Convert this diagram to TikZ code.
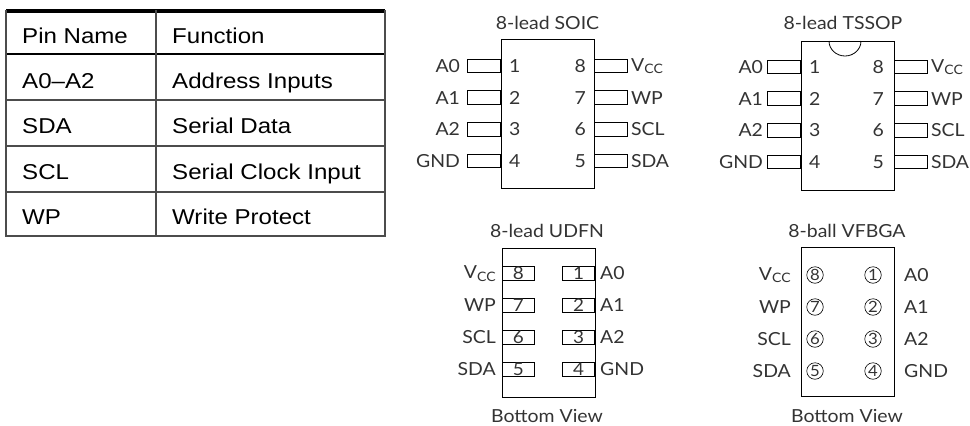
\documentclass[tikz,border=0pt]{standalone}
\usepackage{fontspec}
\setmainfont{Liberation Sans}[FakeStretch=1.12]
\newfontfamily\chipfont{Lato}[FakeStretch=1.08]
\usetikzlibrary{positioning}

\newcommand{\Vcc}{V\kern0.3pt{\fontsize{13}{13}\selectfont\raisebox{-2.5pt}{CC}}}

\begin{document}
\begin{tikzpicture}[x=1pt, y=-1pt,
    cell/.style={anchor=base west, inner sep=0pt, font=\fontsize{21.5}{21.5}\selectfont},
    rule/.style={draw=black!70, line width=1.2pt},
    lbl/.style={inner sep=0pt, text=black!80, font=\chipfont\fontsize{18}{18}\selectfont},
    pin/.style={draw, line width=0.8pt, fill=white, minimum width=33pt, minimum height=13.5pt, inner sep=0pt},
    pad/.style={draw, line width=0.8pt, minimum width=32pt, minimum height=14pt, inner sep=0pt, text=black!80, font=\chipfont\fontsize{17.5}{17.5}\selectfont},
    ball/.style={draw, circle, line width=0.6pt, minimum size=16.5pt, inner sep=0pt, text=black!80, font=\chipfont\fontsize{15.5}{15.5}\selectfont},
    body/.style={draw, line width=0.8pt}]
    \useasboundingbox (0,0) rectangle (970,426);

    % pin table
    \draw[line width=3.5pt] (6,11) -- (385,11);
    \draw[line width=2pt] (6,54) -- (385,54);
    \foreach \yy in {100,146,192} \draw[rule] (6,\yy) -- (385,\yy);
    \draw[rule] (6,10) -- (6,236) -- (385,236) -- (385,10);
    \draw[rule] (156,10) -- (156,236);
    \node[cell] (hname) at (22,43) {Pin Name};
    \node[cell] (hfunc) at (172,43) {Function};
    \foreach \nm/\fn [count=\r] in {A0--A2/Address Inputs, SDA/Serial Data, SCL/Serial Clock Input, WP/Write Protect} {
        \node[cell] (n\r) at (22,42.5+45.6*\r) {\nm};
        \node[cell] (f\r) at (172,42.5+45.6*\r) {\fn};
    }

    % 8-lead SOIC
    \node[lbl] (soic) at (547.5,23) {8-lead SOIC};
    \draw[body] (501,39) rectangle (594,188);
    \foreach \nm [count=\i] in {A0,A1,A2,GND} {
        \node[pin, anchor=east] (sl\i) at (501,66+31.6*\i-31.6) {};
        \node[lbl, left=7pt of sl\i] (sln\i) {\nm};
        \node[lbl, right=8pt of sl\i] (slp\i) {\i};
    }
    \foreach \nm/\p [count=\i] in {\Vcc/8,WP/7,SCL/6,SDA/5} {
        \node[pin, anchor=west] (sr\i) at (594,66+31.6*\i-31.6) {};
        \node[lbl, right=3pt of sr\i] (srn\i) {\nm};
        \node[lbl, left=8pt of sr\i] (srp\i) {\p};
    }

    % 8-lead TSSOP
    \node[lbl] (tssop) at (843,23) {8-lead TSSOP};
    \draw[body] (801,41) rectangle (894,190);
    \draw[body] (829,41) arc[start angle=180, end angle=0, x radius=16, y radius=15];
    \foreach \nm [count=\i] in {A0,A1,A2,GND} {
        \node[pin, anchor=east] (tl\i) at (801,67+31.6*\i-31.6) {};
        \node[lbl, left=4pt of tl\i] (tln\i) {\nm};
        \node[lbl, right=8pt of tl\i] (tlp\i) {\i};
    }
    \foreach \nm/\p [count=\i] in {\Vcc/8,WP/7,SCL/6,SDA/5} {
        \node[pin, anchor=west] (tr\i) at (894,67+31.6*\i-31.6) {};
        \node[lbl, right=3pt of tr\i] (trn\i) {\nm};
        \node[lbl, left=10pt of tr\i] (trp\i) {\p};
    }

    % 8-lead UDFN, bottom view
    \node[lbl] (udfn) at (547,231) {8-lead UDFN};
    \draw[body] (502,248) rectangle (595,397);
    \foreach \nm/\p [count=\i] in {\Vcc/8,WP/7,SCL/6,SDA/5} {
        \node[pad, anchor=west] (ul\i) at (502,273.5+31.8*\i-31.8) {\p};
        \node[lbl, left=6pt of ul\i] (uln\i) {\nm};
    }
    \foreach \nm [count=\i] in {A0,A1,A2,GND} {
        \node[pad, anchor=east] (ur\i) at (595,273.5+31.8*\i-31.8) {\i};
        \node[lbl, right=5pt of ur\i] (urn\i) {\nm};
    }
    \node[lbl] (uview) at (547,416.5) {Bottom View};

    % 8-ball VFBGA, bottom view
    \node[lbl] (vfbga) at (847,231) {8-ball VFBGA};
    \draw[body] (801,247) rectangle (894,396);
    \foreach \nm/\p [count=\i] in {\Vcc/8,WP/7,SCL/6,SDA/5} {
        \node[ball] (bl\i) at (815,275+32*\i-32) {\p};
        \node[lbl, anchor=east] (bln\i) at (791,275+32*\i-32) {\nm};
    }
    \foreach \nm [count=\i] in {A0,A1,A2,GND} {
        \node[ball] (br\i) at (873,275+32*\i-32) {\i};
        \node[lbl, anchor=west] (brn\i) at (904,275+32*\i-32) {\nm};
    }
    \node[lbl] (bview) at (847,416.5) {Bottom View};
\end{tikzpicture}
\end{document}
